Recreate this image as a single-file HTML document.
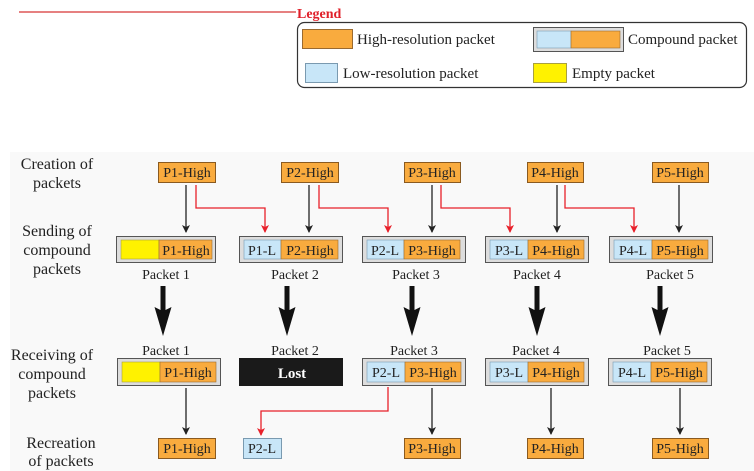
<!DOCTYPE html>
<html><head><meta charset="utf-8"><style>
html,body{margin:0;padding:0;background:#fff;}
svg{display:block;font-family:"Liberation Serif",serif;}
</style></head><body>
<svg width="754" height="471" viewBox="0 0 754 471" xmlns="http://www.w3.org/2000/svg">
<defs>
<marker id="ab" markerWidth="8" markerHeight="10" refX="7" refY="5" orient="auto" markerUnits="userSpaceOnUse"><path d="M0,1 L8,5 L0,9 L2,5 Z" fill="#222"/></marker>
<marker id="ar" markerWidth="8" markerHeight="10" refX="7" refY="5" orient="auto" markerUnits="userSpaceOnUse"><path d="M0,1 L8,5 L0,9 L2,5 Z" fill="#e8202a"/></marker>
</defs>
<rect x="10" y="152" width="744" height="319" fill="#f9f9f9"/>
<!-- legend -->
<line x1="19" y1="12" x2="296" y2="12" stroke="#c00" stroke-width="1"/>
<text x="297" y="18" font-size="14" font-weight="bold" fill="#e0202a">Legend</text>
<rect x="297.5" y="22.5" width="449" height="65" rx="7" fill="#fff" stroke="#333" stroke-width="1.2"/>
<rect x="302.5" y="29.5" width="50" height="19" fill="#f9ab3e" stroke="#9a6a30"/>
<text x="357" y="44" font-size="15" fill="#222">High-resolution packet</text>
<rect x="533.5" y="27.5" width="90" height="24" fill="#ddd" stroke="#555"/>
<rect x="537" y="31" width="34" height="17" fill="#c8e6f8" stroke="#7a9ab0" stroke-width=".6"/>
<rect x="571" y="31" width="49" height="17" fill="#f9ab3e" stroke="#9a6a30" stroke-width=".6"/>
<text x="628" y="44" font-size="15" fill="#222">Compound packet</text>
<rect x="305.5" y="63.5" width="32" height="19" fill="#c8e6f8" stroke="#7a9ab0"/>
<text x="343" y="78" font-size="15" fill="#222">Low-resolution packet</text>
<rect x="533.5" y="63.5" width="33" height="19" fill="#fff200" stroke="#a9a040"/>
<text x="572" y="78" font-size="15" fill="#222">Empty packet</text>
<!-- row labels -->
<g font-size="16" fill="#222" text-anchor="middle">
<text x="57" y="169">Creation of</text><text x="57" y="188">packets</text>
<text x="57" y="236">Sending of</text><text x="57" y="255">compound</text><text x="57" y="274">packets</text>
<text x="52" y="360">Receiving of</text><text x="52" y="379">compound</text><text x="52" y="398">packets</text>
<text x="61" y="448">Recreation</text><text x="61" y="466">of packets</text>
</g>
<g font-size="14" fill="#222">
<g stroke="#8a5a20" fill="#f9ab3e">
<rect x="158.5" y="162.5" width="57" height="20"/><rect x="281.5" y="162.5" width="57" height="20"/>
<rect x="404.5" y="162.5" width="56" height="20"/><rect x="527.5" y="162.5" width="56" height="20"/>
<rect x="652.5" y="162.5" width="56" height="20"/>
</g>
<g text-anchor="middle">
<text x="187" y="177">P1-High</text><text x="310" y="177">P2-High</text><text x="432" y="177">P3-High</text><text x="555" y="177">P4-High</text><text x="680" y="177">P5-High</text>
</g>
<g stroke="#222" stroke-width="1.3" marker-end="url(#ab)">
<line x1="186" y1="185" x2="186" y2="232"/><line x1="309" y1="185" x2="309" y2="232"/>
<line x1="432" y1="185" x2="432" y2="232"/><line x1="557" y1="185" x2="557" y2="232"/>
<line x1="679" y1="185" x2="679" y2="232"/>
</g>
<g stroke="#e8202a" stroke-width="1.3" fill="none" marker-end="url(#ar)">
<polyline points="196,185 196,208 265,208 265,232"/>
<polyline points="319,185 319,208 388,208 388,232"/>
<polyline points="441,185 441,208 510,208 510,232"/>
<polyline points="565,185 565,208 634,208 634,232"/>
<polyline points="388,387 388,411 261,411 261,435"/>
</g>
<g>
<rect x="116.5" y="236.5" width="99" height="26" fill="#ddd" stroke="#555"/>
<rect x="121" y="240" width="38" height="19" fill="#fff200" stroke="#a9a040" stroke-width=".6"/>
<rect x="159" y="240" width="53" height="19" fill="#f9ab3e" stroke="#9a6a30" stroke-width=".6"/>
<text x="186" y="255" text-anchor="middle">P1-High</text>
</g>
<g>
<rect x="239.5" y="236.5" width="103" height="26" fill="#ddd" stroke="#555"/>
<rect x="244" y="240" width="37" height="19" fill="#c8e6f8" stroke="#7a9ab0" stroke-width=".6"/>
<rect x="281" y="240" width="57" height="19" fill="#f9ab3e" stroke="#9a6a30" stroke-width=".6"/>
<text x="262" y="255" text-anchor="middle">P1-L</text><text x="310" y="255" text-anchor="middle">P2-High</text>
</g>
<g>
<rect x="362.5" y="236.5" width="103" height="26" fill="#ddd" stroke="#555"/>
<rect x="367" y="240" width="37" height="19" fill="#c8e6f8" stroke="#7a9ab0" stroke-width=".6"/>
<rect x="404" y="240" width="56" height="19" fill="#f9ab3e" stroke="#9a6a30" stroke-width=".6"/>
<text x="385" y="255" text-anchor="middle">P2-L</text><text x="432" y="255" text-anchor="middle">P3-High</text>
</g>
<g>
<rect x="485.5" y="236.5" width="103" height="26" fill="#ddd" stroke="#555"/>
<rect x="490" y="240" width="38" height="19" fill="#c8e6f8" stroke="#7a9ab0" stroke-width=".6"/>
<rect x="528" y="240" width="56" height="19" fill="#f9ab3e" stroke="#9a6a30" stroke-width=".6"/>
<text x="509" y="255" text-anchor="middle">P3-L</text><text x="556" y="255" text-anchor="middle">P4-High</text>
</g>
<g>
<rect x="609.5" y="236.5" width="103" height="26" fill="#ddd" stroke="#555"/>
<rect x="614" y="240" width="38" height="19" fill="#c8e6f8" stroke="#7a9ab0" stroke-width=".6"/>
<rect x="652" y="240" width="56" height="19" fill="#f9ab3e" stroke="#9a6a30" stroke-width=".6"/>
<text x="633" y="255" text-anchor="middle">P4-L</text><text x="680" y="255" text-anchor="middle">P5-High</text>
</g>
<g text-anchor="middle">
<text x="166" y="279">Packet 1</text><text x="295" y="279">Packet 2</text><text x="416" y="279">Packet 3</text><text x="537" y="279">Packet 4</text><text x="670" y="279">Packet 5</text>
<text x="166" y="355">Packet 1</text><text x="295" y="355">Packet 2</text><text x="414" y="355">Packet 3</text><text x="536" y="355">Packet 4</text><text x="667" y="355">Packet 5</text>
</g>
<g fill="#111">
<path d="M160.5,286 h5 v24 l6,-3 l-8.5,29 l-8.5,-29 l6,3 z"/>
<path d="M284.5,286 h5 v24 l6,-3 l-8.5,29 l-8.5,-29 l6,3 z"/>
<path d="M409.5,286 h5 v24 l6,-3 l-8.5,29 l-8.5,-29 l6,3 z"/>
<path d="M534.5,286 h5 v24 l6,-3 l-8.5,29 l-8.5,-29 l6,3 z"/>
<path d="M657.5,286 h5 v24 l6,-3 l-8.5,29 l-8.5,-29 l6,3 z"/>
</g>
<g>
<rect x="117.5" y="358.5" width="103" height="27" fill="#ddd" stroke="#555"/>
<rect x="122" y="362" width="38" height="20" fill="#fff200" stroke="#a9a040" stroke-width=".6"/>
<rect x="160" y="362" width="56" height="20" fill="#f9ab3e" stroke="#9a6a30" stroke-width=".6"/>
<text x="188" y="377" text-anchor="middle">P1-High</text>
</g>
<rect x="239" y="358" width="104" height="28" fill="#1a1a1a"/>
<text x="292" y="378" text-anchor="middle" fill="#fff" font-weight="bold" font-size="15">Lost</text>
<g>
<rect x="362.5" y="358.5" width="103" height="27" fill="#ddd" stroke="#555"/>
<rect x="367" y="362" width="38" height="20" fill="#c8e6f8" stroke="#7a9ab0" stroke-width=".6"/>
<rect x="405" y="362" width="56" height="20" fill="#f9ab3e" stroke="#9a6a30" stroke-width=".6"/>
<text x="386" y="377" text-anchor="middle">P2-L</text><text x="433" y="377" text-anchor="middle">P3-High</text>
</g>
<g>
<rect x="485.5" y="358.5" width="103" height="27" fill="#ddd" stroke="#555"/>
<rect x="490" y="362" width="38" height="20" fill="#c8e6f8" stroke="#7a9ab0" stroke-width=".6"/>
<rect x="528" y="362" width="56" height="20" fill="#f9ab3e" stroke="#9a6a30" stroke-width=".6"/>
<text x="509" y="377" text-anchor="middle">P3-L</text><text x="556" y="377" text-anchor="middle">P4-High</text>
</g>
<g>
<rect x="608.5" y="358.5" width="103" height="27" fill="#ddd" stroke="#555"/>
<rect x="613" y="362" width="38" height="20" fill="#c8e6f8" stroke="#7a9ab0" stroke-width=".6"/>
<rect x="651" y="362" width="56" height="20" fill="#f9ab3e" stroke="#9a6a30" stroke-width=".6"/>
<text x="632" y="377" text-anchor="middle">P4-L</text><text x="679" y="377" text-anchor="middle">P5-High</text>
</g>
<g stroke="#222" stroke-width="1.3" marker-end="url(#ab)">
<line x1="186" y1="388" x2="186" y2="434"/><line x1="432" y1="388" x2="432" y2="434"/>
<line x1="551" y1="388" x2="551" y2="434"/><line x1="680" y1="388" x2="680" y2="434"/>
</g>
<g stroke="#8a5a20" fill="#f9ab3e">
<rect x="158.5" y="438.5" width="57" height="20"/><rect x="404.5" y="438.5" width="56" height="20"/>
<rect x="527.5" y="438.5" width="56" height="20"/><rect x="652.5" y="438.5" width="56" height="20"/>
</g>
<rect x="243.5" y="438.5" width="38" height="20" fill="#c8e6f8" stroke="#7a9ab0"/>
<g text-anchor="middle">
<text x="187" y="453">P1-High</text><text x="262" y="453">P2-L</text><text x="432" y="453">P3-High</text><text x="555" y="453">P4-High</text><text x="680" y="453">P5-High</text>
</g>
</g>
</svg>
</body></html>
